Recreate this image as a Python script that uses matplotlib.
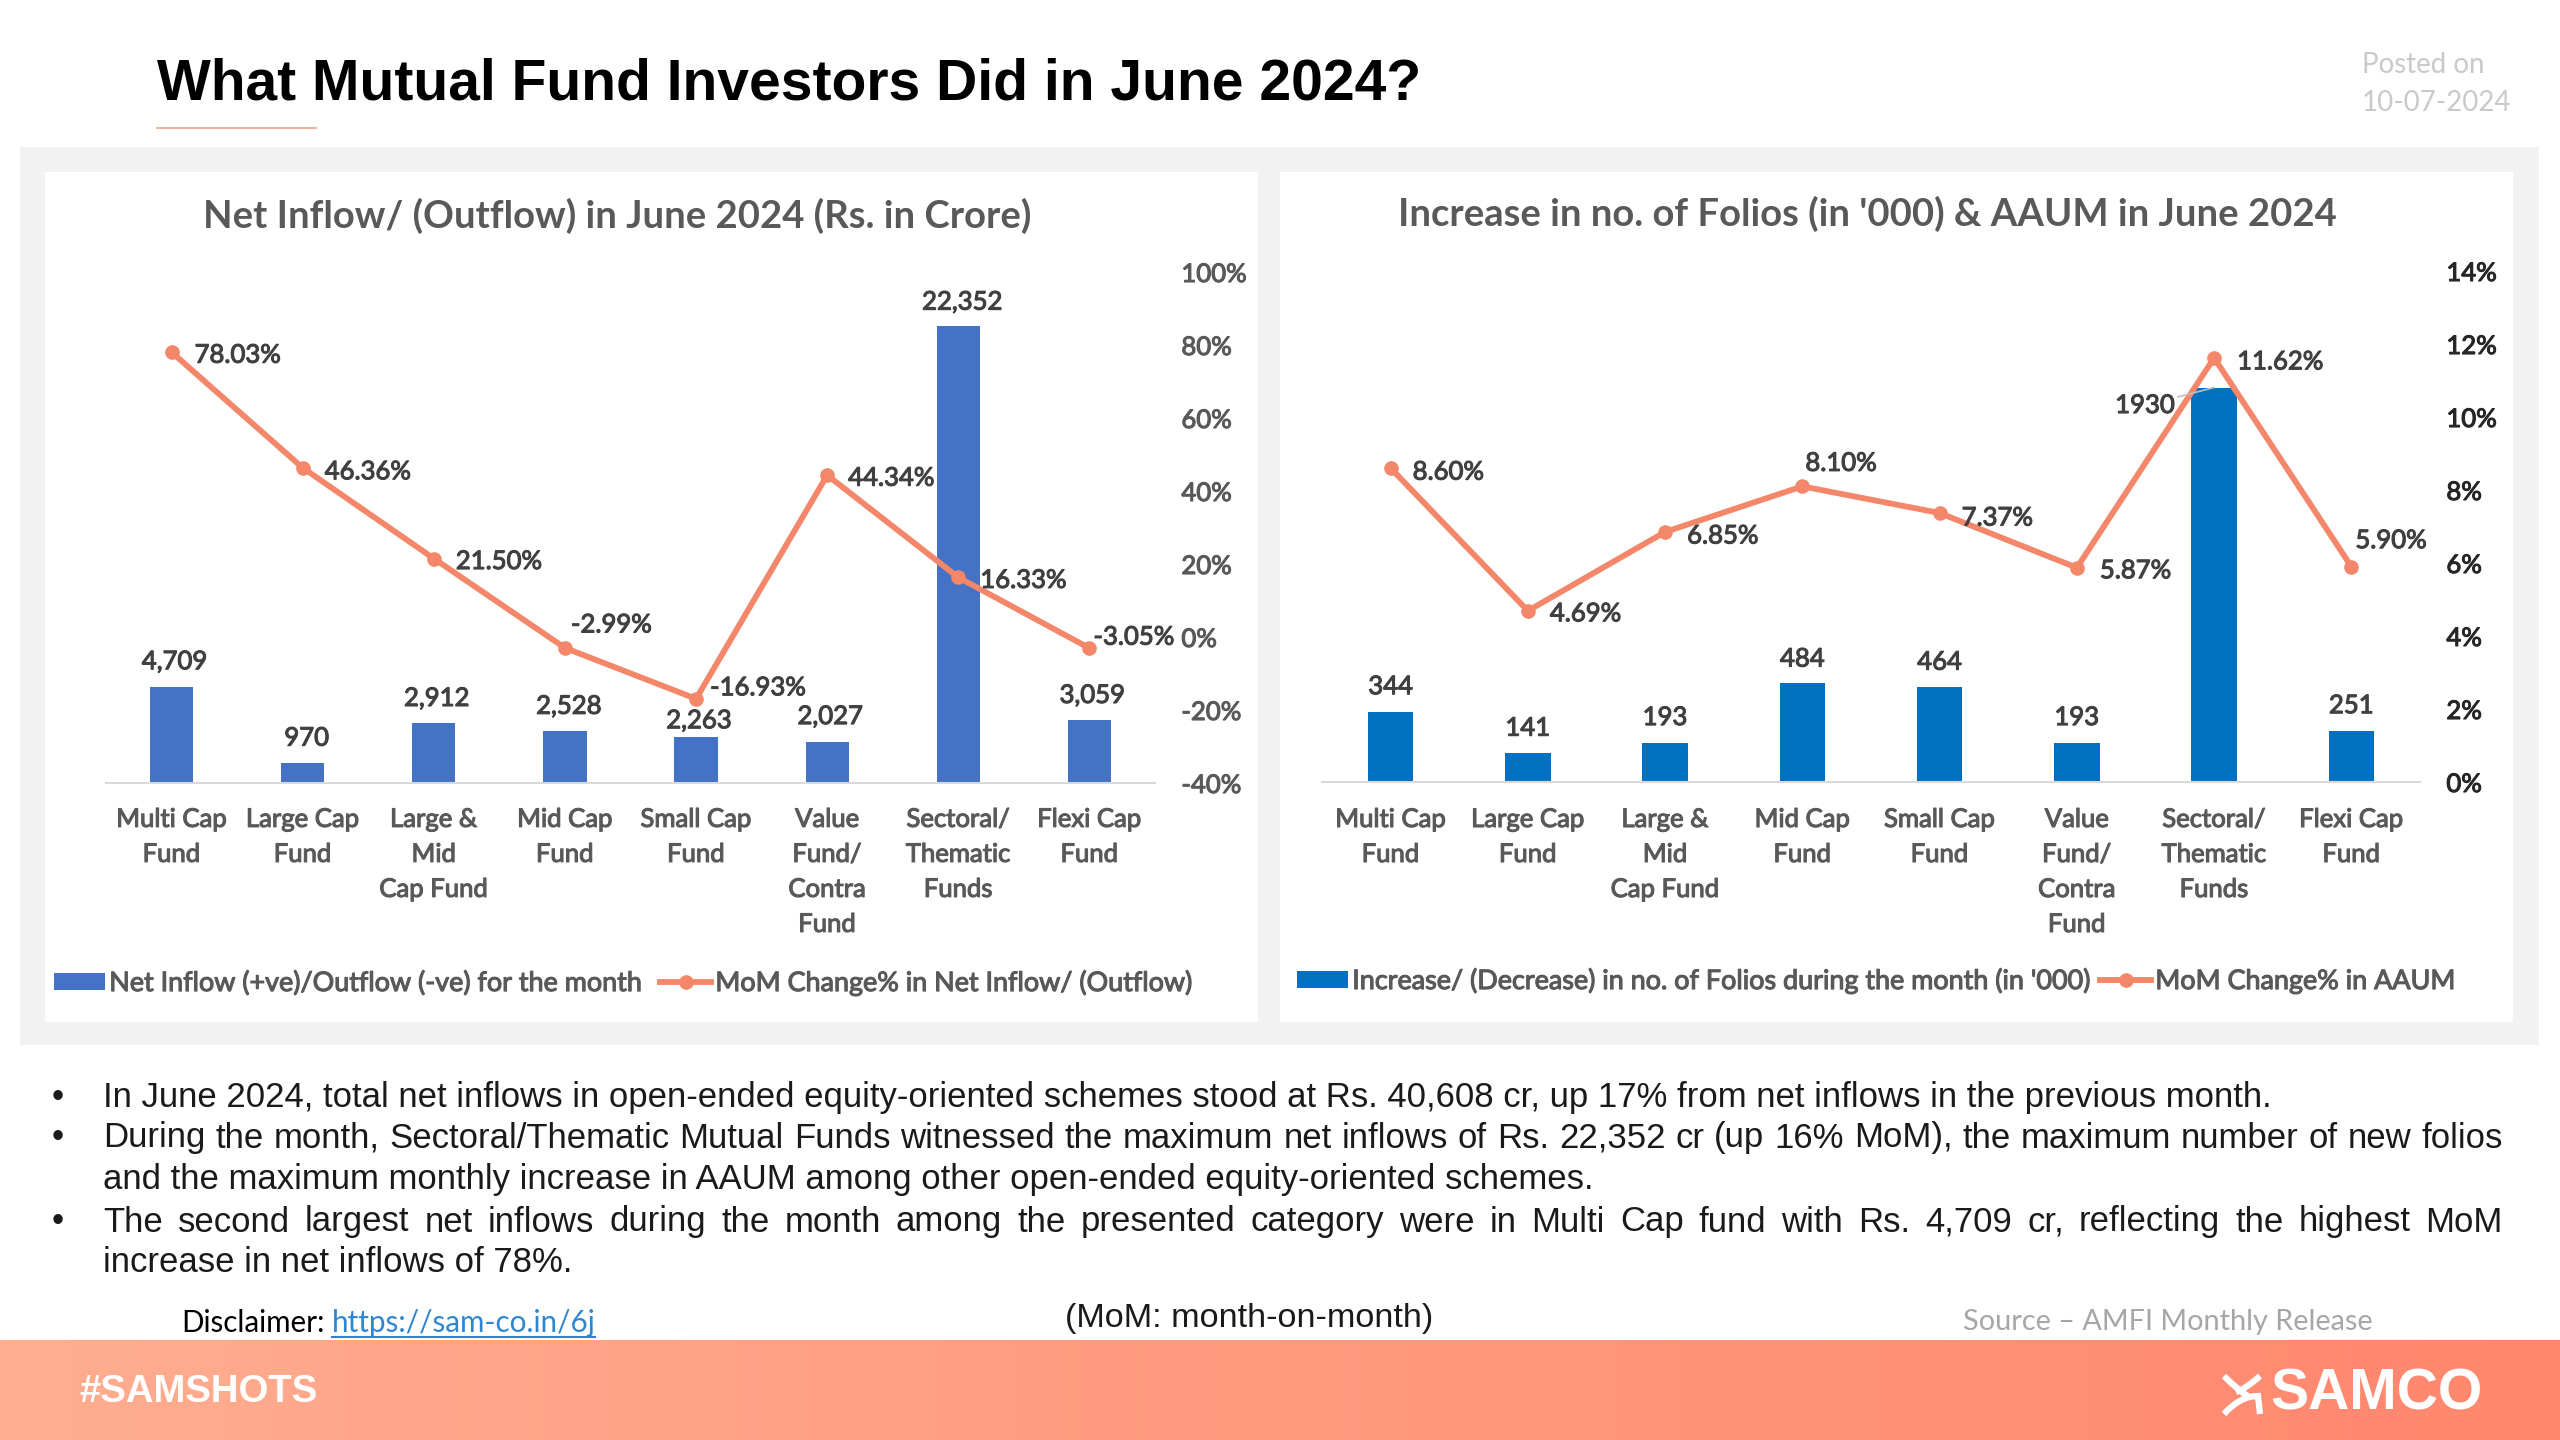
import numpy as np
import matplotlib
matplotlib.use('Agg')
import matplotlib.pyplot as plt
import matplotlib.patheffects as pe
from matplotlib.colors import LinearSegmentedColormap
from matplotlib.patches import Rectangle, PathPatch
from matplotlib.path import Path

plt.rcParams['font.family'] = ['Lato', 'DejaVu Sans']

# Chart data
categories = ['Multi Cap\nFund', 'Large Cap\nFund', 'Large &\nMid\nCap Fund', 'Mid Cap\nFund',
              'Small Cap\nFund', 'Value\nFund/\nContra\nFund', 'Sectoral/\nThematic\nFunds', 'Flexi Cap\nFund']
net_inflow = [4709, 970, 2912, 2528, 2263, 2027, 22352, 3059]
net_inflow_mom = [78.03, 46.36, 21.50, -2.99, -16.93, 44.34, 16.33, -3.05]
folios = [344, 141, 193, 484, 464, 193, 1930, 251]
aaum_mom = [8.60, 4.69, 6.85, 8.10, 7.37, 5.87, 11.62, 5.90]

# Label offsets in pixels (dx, dy)
net_bar_off = [(3, 25), (4, 25), (3, 25), (4, 25), (3, 16), (3, 25), (4, 24), (3, 25)]
net_line_off = [(23, -3), (22, -4), (22, -3), (6, 23), (14, 11), (21, -3), (22, -3), (4, 11)]
fol_bar_off = [(0, 25), (0, 25), (0, 25), (0, 24), (0, 25), (0, 25), (-69, -18), (0, 25)]
fol_line_off = [(22, -4), (22, -3), (22, -4), (3, 23), (22, -5), (23, -3), (23, -4), (4, 26)]

TEXT_GREY = '#595959'
LINE_COL = '#F4866A'
LABEL_SIZE = 18.5
LEGEND_SIZE = 19.4
BODY_COL = '#1a1a1a'
PX = 0.72  # points per pixel at dpi=100


def semi(color):
    # Lato has no semibold here, thicken the regular weight a bit
    return [pe.withStroke(linewidth=0.8, foreground=color)]


def doChart(box, bars, line, bar_col, bar_max, line_lim, line_step, bar_off, line_off, fmt, tick_col, legend_labels, legend_pos, col_space, x_pad):
    left, top, w, h = box
    ax = fig.add_axes([left/2560, 1-(top+h)/1440, w/2560, h/1440])
    ax.patch.set_alpha(0)
    x = np.arange(len(categories))
    cont = ax.bar(x, bars, width=0.33, color=bar_col, label=legend_labels[0])
    ax.set_xlim(-0.5, 7.5)
    ax.set_ylim(0, bar_max)
    ax.set_yticks([])
    for s in ['top', 'left', 'right']:
        ax.spines[s].set_visible(False)
    ax.spines['bottom'].set_color('#D9D9D9')
    ax.spines['bottom'].set_linewidth(1.5)
    ax.set_xticks(x)
    ax.set_xticklabels(categories, fontsize=LABEL_SIZE, color=TEXT_GREY, linespacing=1.5, path_effects=semi(TEXT_GREY))
    ax.tick_params(axis='x', length=0, pad=x_pad)

    ax2 = ax.twinx()
    ax2.patch.set_alpha(0)
    hl, = ax2.plot(x, line, color=LINE_COL, linewidth=4.2, marker='o', markersize=9.5, label=legend_labels[1])
    ax2.set_ylim(*line_lim)
    ax2.set_yticks(np.arange(line_lim[0], line_lim[1]+1, line_step))
    ax2.set_yticklabels(['%d%%' % t for t in ax2.get_yticks()], fontsize=LABEL_SIZE, color=tick_col, path_effects=semi(tick_col))
    ax2.tick_params(axis='y', length=0, pad=19)
    for s in ax2.spines.values():
        s.set_visible(False)

    for i in range(len(bars)):
        dx, dy = bar_off[i]
        txt = fmt(bars[i])
        arrow = None
        if dy < 0:
            arrow = dict(arrowstyle='-', color='#BFBFBF', linewidth=1.2, shrinkA=0, shrinkB=0)
        ax2.annotate(txt, xy=(i, line_lim[0]+(line_lim[1]-line_lim[0])*bars[i]/bar_max), xytext=(dx*PX, dy*PX),
                     textcoords='offset points', ha='center', va='center', fontsize=LABEL_SIZE,
                     color='#404040', arrowprops=arrow, path_effects=semi('#404040'))
        dx, dy = line_off[i]
        ax2.annotate('%.2f%%' % line[i], xy=(i, line[i]), xytext=(dx*PX, dy*PX), textcoords='offset points',
                     ha='left', va='center', fontsize=LABEL_SIZE, color='#404040', path_effects=semi('#404040'))

    leg = fig.legend([cont, hl], legend_labels, ncol=2, loc='center left', bbox_to_anchor=(legend_pos[0]/2560, 1-legend_pos[1]/1440),
                     frameon=False, fontsize=LEGEND_SIZE, labelcolor=TEXT_GREY, handlelength=1.9, handleheight=0.62,
                     handletextpad=0.15, columnspacing=col_space, borderpad=0, borderaxespad=0)
    for t in leg.get_texts():
        t.set_path_effects(semi(TEXT_GREY))


def doJustified(ax, line, xl, xr, y, size):
    # matplotlib has no justify, so place the words one by one
    words = line.split(' ')
    texts = [ax.text(xl, y, w, fontsize=size, family='Liberation Sans', va='center', color=BODY_COL) for w in words]
    rend = fig.canvas.get_renderer()
    widths = [t.get_window_extent(rend).width for t in texts]
    gap = (xr - xl - sum(widths)) / (len(words) - 1)
    pos = xl
    for t, wd in zip(texts, widths):
        t.set_x(pos)
        pos += wd + gap


fig = plt.figure(figsize=(25.6, 14.4), dpi=100, facecolor='white')

# Background layer in pixel coordinates
bg = fig.add_axes([0, 0, 1, 1])
grad = np.linspace(0, 1, 256).reshape(1, -1)
cmap = LinearSegmentedColormap.from_list('footer', ['#FFAD90', '#FF876E'])
bg.imshow(grad, extent=(0, 2560, 1440, 1340), cmap=cmap, aspect='auto')
bg.set_xlim(0, 2560)
bg.set_ylim(1440, 0)
bg.axis('off')
bg.add_patch(Rectangle((20, 147), 2519, 898, color='#F2F2F2', linewidth=0))
bg.add_patch(Rectangle((45, 172), 1213, 850, color='white', linewidth=0))
bg.add_patch(Rectangle((1280, 172), 1233, 850, color='white', linewidth=0))
bg.plot([157, 316], [128, 128], color='#F0A090', linewidth=1.2)

bg.text(157, 84, 'What Mutual Fund Investors Did in June 2024?', fontsize=41, weight='bold',
        family='Liberation Sans', va='center', color='black')
bg.text(2362, 65, 'Posted on', fontsize=19.9, color='#C9C9C9', va='center')
bg.text(2362, 103, '10-07-2024', fontsize=19.9, color='#C9C9C9', va='center')
bg.text(617, 216, 'Net Inflow/ (Outflow) in June 2024 (Rs. in Crore)', fontsize=27.5, weight='bold',
        color=TEXT_GREY, ha='center', va='center')
bg.text(1867, 214, "Increase in no. of Folios (in '000) & AAUM in June 2024", fontsize=27.5, weight='bold',
        color=TEXT_GREY, ha='center', va='center')

# Bullets
BULLET_SIZE = 25
for yb in [1097, 1138, 1222]:
    bg.text(52, yb, '\u2022', fontsize=BULLET_SIZE, family='Liberation Sans', va='center', color=BODY_COL)
bg.text(103, 1097, 'In June 2024, total net inflows in open-ended equity-oriented schemes stood at Rs. 40,608 cr, up 17% from net inflows in the previous month.',
        fontsize=BULLET_SIZE, family='Liberation Sans', va='center', color=BODY_COL)
doJustified(bg, 'During the month, Sectoral/Thematic Mutual Funds witnessed the maximum net inflows of Rs. 22,352 cr (up 16% MoM), the maximum number of new folios',
            103, 2503, 1138, BULLET_SIZE)
bg.text(103, 1180, 'and the maximum monthly increase in AAUM among other open-ended equity-oriented schemes.',
        fontsize=BULLET_SIZE, family='Liberation Sans', va='center', color=BODY_COL)
doJustified(bg, 'The second largest net inflows during the month among the presented category were in Multi Cap fund with Rs. 4,709 cr, reflecting the highest MoM',
            103, 2503, 1222, BULLET_SIZE)
bg.text(103, 1263, 'increase in net inflows of 78%.', fontsize=BULLET_SIZE, family='Liberation Sans', va='center', color=BODY_COL)

bg.text(181, 1323, 'Disclaimer:', fontsize=21.3, va='center', color='black')
bg.text(332, 1323, 'https://sam-co.in/6j', fontsize=21.3, va='center', color='#2E86D0')
bg.plot([332, 595], [1337, 1337], color='#2E86D0', linewidth=1.5)
bg.text(1065, 1318, '(MoM: month-on-month)', fontsize=24.7, family='Liberation Sans', va='center', color=BODY_COL)
bg.text(1963, 1322, 'Source \u2013 AMFI Monthly Release', fontsize=20.8, va='center', color='#A6A6A6')

# Footer
bg.text(79, 1392, '#SAMSHOTS', fontsize=27.5, weight='bold', family='Liberation Sans', va='center', color='white')
bg.text(2270, 1395, 'SAMCO', fontsize=41, weight='bold', family='Liberation Sans', va='center', color='white')
swirl = Path([(2224, 1376), (2240, 1392), (2248, 1396), (2224, 1414), (2240, 1396), (2258, 1396), (2260, 1414),
              (2260, 1376), (2244, 1390), (2236, 1392)],
             [Path.MOVETO, Path.CURVE3, Path.CURVE3, Path.MOVETO, Path.CURVE3, Path.CURVE3, Path.LINETO,
              Path.MOVETO, Path.CURVE3, Path.CURVE3])
bg.add_patch(PathPatch(swirl, facecolor='none', edgecolor='white', linewidth=4.5))

doChart((106, 272, 1049, 511), net_inflow, net_inflow_mom, '#4472C4', 25000, (-40, 100), 20, net_bar_off, net_line_off,
        lambda v: format(v, ','), TEXT_GREY, ['Net Inflow (+ve)/Outflow (-ve) for the month', 'MoM Change% in Net Inflow/ (Outflow)'], (54, 983), 0.7, 17.2)
doChart((1322, 271, 1098, 511), folios, aaum_mom, '#0070C0', 2500, (0, 14), 2, fol_bar_off, fol_line_off,
        lambda v: str(v), '#262626', ["Increase/ (Decrease) in no. of Folios during the month (in '000)", 'MoM Change% in AAUM'], (1297, 981), 0.42, 18)

fig.savefig('out.png', dpi=100)
